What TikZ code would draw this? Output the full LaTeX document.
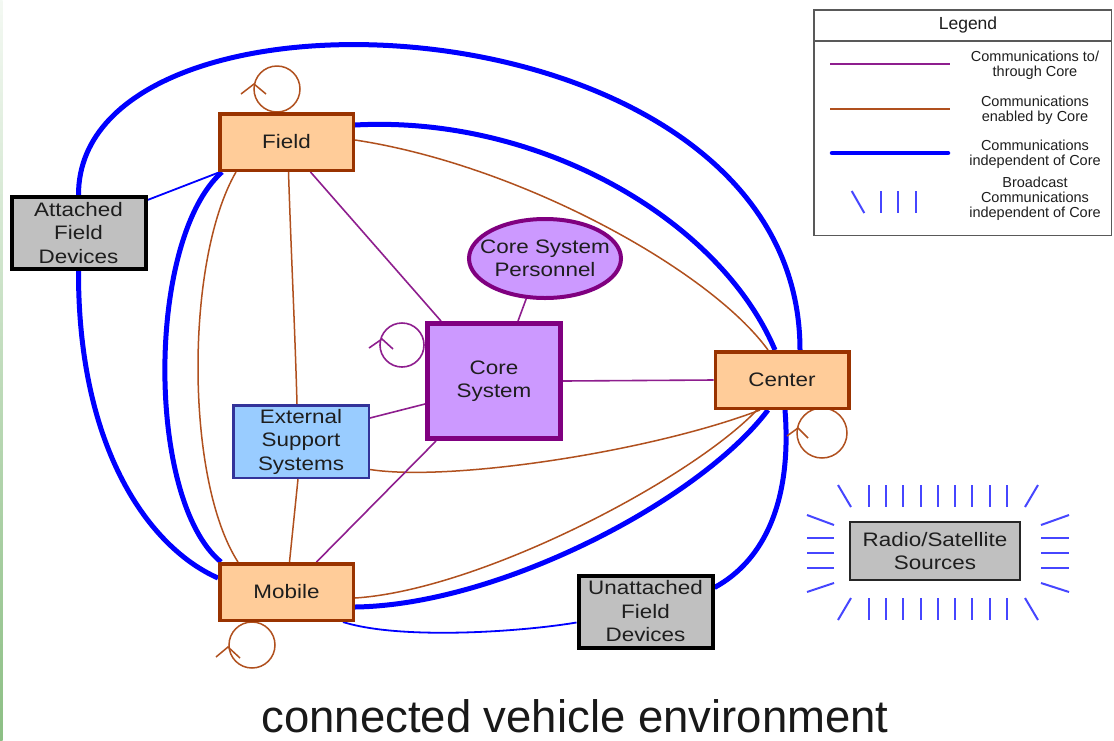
\documentclass[tikz,border=0pt]{standalone}
\usepackage{fontspec}
\setmainfont{Liberation Sans}
\newfontfamily\widesans[FakeStretch=1.15]{Liberation Sans}
\usetikzlibrary{calc,shapes.geometric,backgrounds}

\definecolor{peach}{HTML}{FFCC99}
\definecolor{rust}{HTML}{993300}
\definecolor{rustline}{HTML}{B0501E}
\definecolor{plum}{HTML}{800080}
\definecolor{plumline}{HTML}{8E1E8E}
\definecolor{lilac}{HTML}{CC99FF}
\definecolor{sky}{HTML}{99CCFF}
\definecolor{navyedge}{HTML}{333399}
\definecolor{silver}{HTML}{C0C0C0}
\definecolor{ray}{HTML}{4646FF}
\definecolor{ink}{HTML}{1E1E1E}
\definecolor{leaf}{HTML}{8CBF84}

\tikzset{
  lbl/.style={font=\widesans\fontsize{19.5}{23.5}\selectfont, align=center, inner sep=0pt, text=ink},
  actor/.style={lbl, rectangle, draw=rust, fill=peach, line width=3.5pt, minimum width=133.5pt, minimum height=56.5pt},
  hub/.style={lbl, rectangle, draw=plum, fill=lilac, line width=5pt, minimum width=133pt, minimum height=115pt},
  staff/.style={lbl, ellipse, draw=plum, fill=lilac, line width=4pt, minimum width=152pt, minimum height=79pt, inner xsep=-12pt, inner ysep=0pt},
  support/.style={lbl, rectangle, draw=navyedge, fill=sky, line width=2.5pt, minimum width=135.5pt, minimum height=72.5pt},
  device/.style={lbl, rectangle, draw=black, fill=silver, line width=4pt, minimum width=134pt, minimum height=72pt},
  source/.style={lbl, rectangle, draw=black!85, fill=silver, line width=2pt, minimum width=170pt, minimum height=58pt},
  viacore/.style={draw=plumline, line width=1.6pt},
  bycore/.style={draw=rustline, line width=1.5pt},
  direct/.style={draw=blue, line width=5pt},
  tether/.style={draw=blue, line width=1.8pt},
  beam/.style={draw=ray, line width=2pt},
  legtext/.style={font=\fontsize{14.5}{15}\selectfont, align=center, inner sep=0pt, text=ink},
}

\begin{document}
\begin{tikzpicture}[x=1pt, y=-1pt]
\useasboundingbox (0,0) rectangle (1114,740);

% ---------- entities ----------
\node[actor]   (field)  at (286.5,142)   {Field};
\node[actor]   (mobile) at (286.5,592)   {Mobile};
\node[actor]   (center) at (782,380)     {Center};
\node[hub]     (core)   at (494,381)     {Core\\System};
\node[staff]   (staff)  at (545,258.5)   {Core System\\Personnel};
\node[support] (ext)    at (301,441.5)   {External\\Support\\Systems};
\node[device]  (afd)    at (78.5,233)    {Attached\\Field\\Devices};
\node[device]  (ufd)    at (645.5,611.5) {Unattached\\Field\\Devices};
\node[source]  (radio)  at (935,551)     {Radio/Satellite\\Sources};

% ---------- links, kept behind the boxes ----------
\begin{pgfonlayer}{background}
  \fill[white] (0,0) rectangle (1114,740);
  \shade[top color=leaf!10, bottom color=leaf] (0,0) rectangle (2.5,740);

  % independent of the core (thick blue)
  \draw[direct] (afd.north) .. controls (78,-40) and (800,-8) .. ($(center.north)+(18,0)$);
  \draw[direct] (afd.south) .. controls (78,450) and (150,548) .. ($(mobile.west)+(0,-14)$);
  \draw[direct] ($(field.south west)+(4,0)$) .. controls (146,240) and (146,500) .. ($(mobile.north west)+(3,0)$);
  \draw[direct] ($(field.east)+(0,-17)$) .. controls (540,115) and (720,220) .. ($(center.north)+(-7,0)$);
  \draw[direct] ($(mobile.east)+(0,15)$) .. controls (500,605) and (700,500) .. ($(center.south)+(-14,0)$);
  \draw[direct] ($(center.south)+(3,0)$) .. controls (792,500) and (765,560) .. ($(ufd.north east)+(0,14)$);

  % local wired links (thin blue)
  \draw[tether] ($(field.south west)+(2,0)$) -- ($(afd.east)+(0,-33)$);
  \draw[tether] ($(mobile.south east)+(-12,0)$) .. controls (400,640) and (520,632) .. ($(ufd.west)+(0,11)$);

  % enabled by the core (brown)
  \draw[bycore] ($(field.east)+(0,-2)$) .. controls (520,165) and (710,270) .. ($(center.north)+(-14,0)$);
  \draw[bycore] ($(field.south west)+(18,0)$) .. controls (185,260) and (185,480) .. ($(mobile.north west)+(20,0)$);
  \draw[bycore] ($(field.south)+(2,0)$) .. controls (291,250) and (295,330) .. ($(ext.north)+(-4,0)$);
  \draw[bycore] ($(ext.south)+(-3,0)$) -- ($(mobile.north)+(3,0)$);
  \draw[bycore] ($(ext.east)+(0,28)$) .. controls (450,482) and (650,452) .. ($(center.south)+(-22,0)$);
  \draw[bycore] ($(mobile.east)+(0,6)$) .. controls (480,590) and (690,480) .. ($(center.south)+(-25,0)$);

  % to / through the core (purple)
  \draw[viacore] ($(field.south)+(24,0)$) -- ($(core.north west)+(16,0)$);
  \draw[viacore] (core.east) -- (center.west);
  \draw[viacore] ($(core.west)+(0,23)$) -- ($(ext.east)+(0,-23.5)$);
  \draw[viacore] ($(core.south west)+(11,0)$) -- ($(mobile.north)+(30,0)$);
  \draw[viacore] ($(core.north)+(24,0)$) -- (staff.245);

  % self loops
  \coordinate (lf) at ($(field.north)+(-9.5,-23)$);
  \draw[bycore] (lf) circle[radius=23pt];
  \draw[bycore] (lf) ++(-36,5) -- ++(13,-10) -- ++(12,10);

  \coordinate (lc) at ($(core.north west)+(-23,24)$);
  \draw[viacore] (lc) circle[radius=22pt];
  \draw[viacore] (lc) ++(-33,3) -- ++(13,-9) -- ++(11,10);

  \coordinate (lz) at ($(center.south)+(40,23)$);
  \draw[bycore] (lz) circle[radius=25pt];
  \draw[bycore] (lz) ++(-35,3) -- ++(11,-8) -- ++(10,10);

  \coordinate (lm) at ($(mobile.south)+(-34.5,23)$);
  \draw[bycore] (lm) circle[radius=23pt];
  \draw[bycore] (lm) ++(-36,12) -- ++(12,-10) -- ++(12,11);
\end{pgfonlayer}

% ---------- broadcast rays around the radio/satellite sources ----------
\begin{scope}[shift={(radio.center)}]
  \foreach \k in {-4,...,4} {
    \draw[beam] ({2.8+17.3*\k},-66) -- ({2.8+17.3*\k},-44);
    \draw[beam] ({2.8+17.3*\k},47) -- ({2.8+17.3*\k},69);
  }
  \draw[beam] (-97,-66) -- (-84,-44);
  \draw[beam] (103,-66) -- (90,-44);
  \draw[beam] (-84,47) -- (-97,69);
  \draw[beam] (90,47) -- (103,69);
  \draw[beam] (-128,-36) -- (-101,-26);
  \draw[beam] (-101,32) -- (-128,41);
  \draw[beam] (106,-26) -- (134,-36);
  \draw[beam] (106,32) -- (134,41);
  \foreach \y in {-13.4,2,17} {
    \draw[beam] (-128,\y) -- (-101,\y);
    \draw[beam] (106,\y) -- (134,\y);
  }
\end{scope}

% ---------- legend ----------
\node[draw=black!65, line width=1.5pt, minimum width=297.5pt, minimum height=225.5pt, inner sep=0pt] (legend) at (962.5,122.5) {};
\draw[black!65, line width=1.5pt] ($(legend.north west)+(0,32)$) -- ($(legend.north east)+(0,32)$);
\node[legtext, font=\fontsize{17.5}{20}\selectfont] (legtitle) at (968,24.5) {Legend};

\draw[viacore] (830,64) -- (950,64);
\draw[bycore] (830,109) -- (950,109);
\draw[direct, line width=4.5pt, line cap=round] (832,153) -- (948,153);
\draw[beam] (851.7,191) -- (864.3,213);
\foreach \x in {881,898.3,915.7} \draw[beam] (\x,191) -- (\x,213);

\node[legtext] (leg1) at (1035,65)    {Communications to/\\through Core};
\node[legtext] (leg2) at (1035,110)   {Communications\\enabled by Core};
\node[legtext] (leg3) at (1035,154)   {Communications\\independent of Core};
\node[legtext] (leg4) at (1035,198.7) {Broadcast\\Communications\\independent of Core};

% ---------- caption ----------
\node[font=\fontsize{45.5}{50}\selectfont, anchor=base, inner sep=0pt, text=black!90] (caption) at (575,732) {connected vehicle environment};
\end{tikzpicture}
\end{document}
